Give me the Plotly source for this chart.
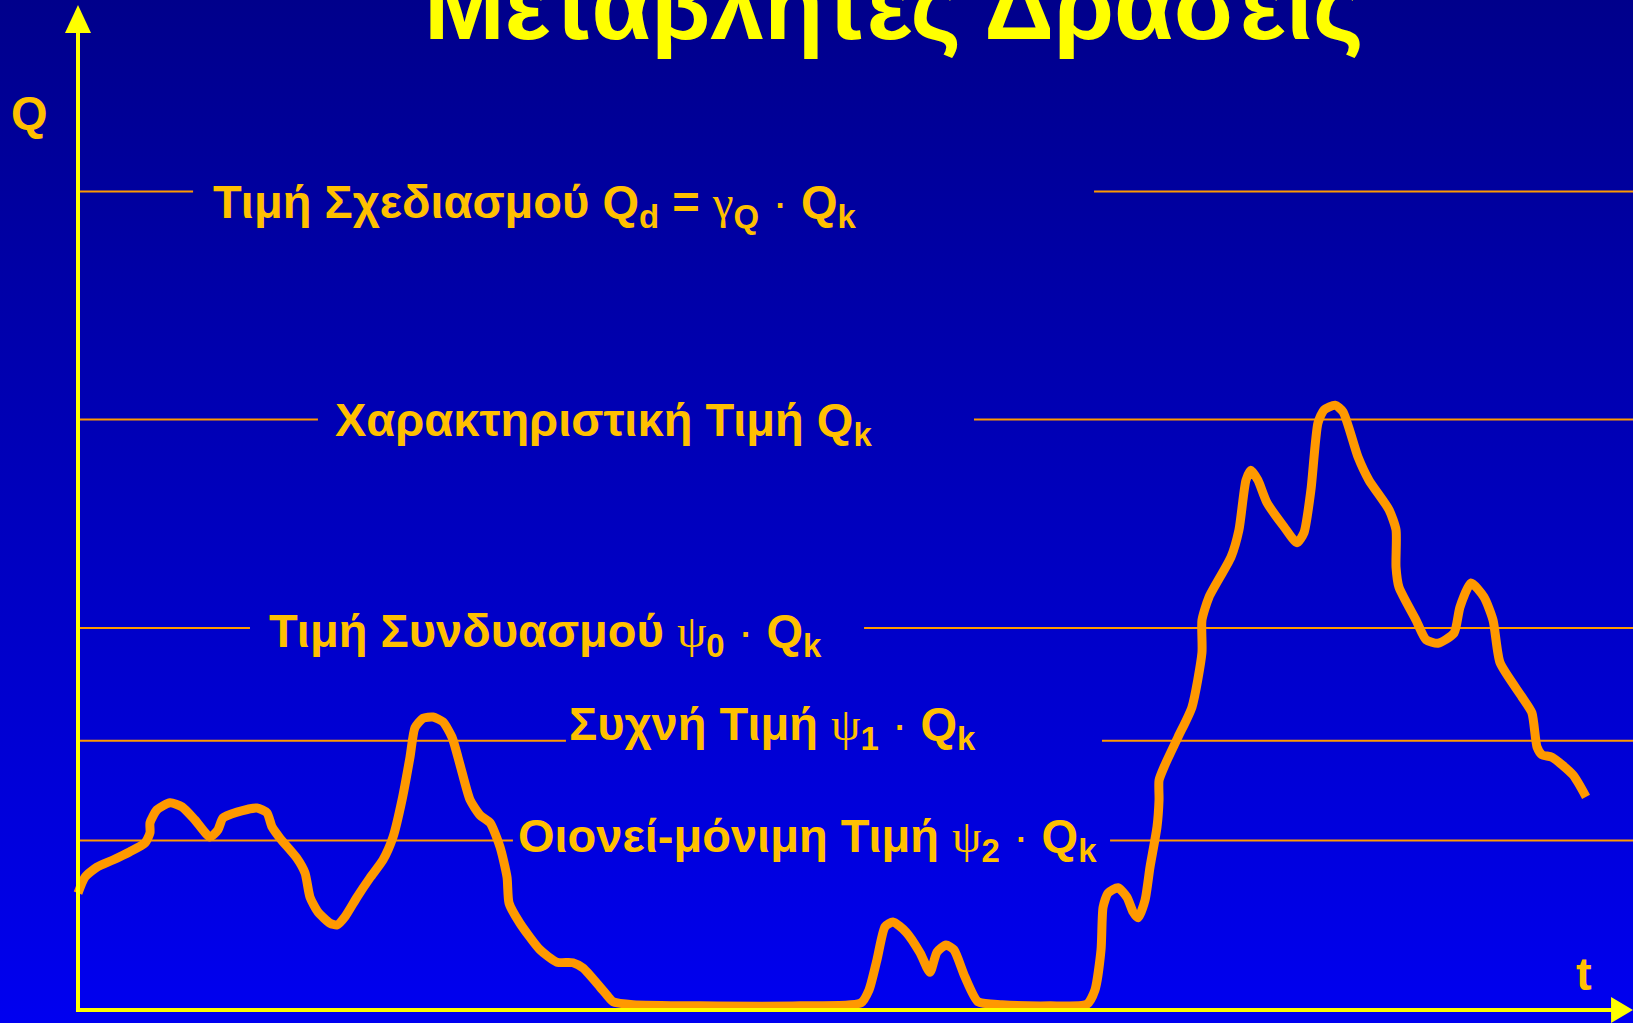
import plotly.graph_objects as go

# ---- time history of the variable action Q(t) ----
t_obs = [0, 0.45, 1.22, 2.25, 3.34, 4.31, 4.63, 4.63, 5.08, 5.92,
         6.69, 7.52, 8.49, 9.00, 9.32, 10.23, 11.51, 12.15, 12.48, 12.99,
         14.08, 14.60, 14.92, 15.43, 16.21, 16.66, 17.17, 17.94, 18.78, 19.61,
         20.26, 20.84, 21.35, 21.67, 22.19, 22.83, 23.47, 24.05, 24.57, 25.21,
         25.85, 26.50, 27.14, 27.59, 27.72, 28.42, 29.71, 30.80, 31.83, 32.48,
         33.57, 34.02, 34.41, 35.69, 40.00, 46.43, 50.35, 50.87, 51.38, 51.90,
         52.41, 53.25, 54.15, 54.79, 55.24, 55.82, 56.33, 57.04, 57.88, 59.42,
         62.51, 64.89, 65.40, 65.79, 65.92, 66.24, 66.88, 67.46, 67.85, 68.17,
         68.62, 68.94, 69.39, 69.52, 69.52, 69.90, 70.74, 71.64, 72.28, 72.28,
         72.73, 74.15, 74.66, 75.11, 75.43, 75.88, 76.46, 77.56, 78.39, 78.84,
         79.29, 79.74, 80.13, 80.84, 81.35, 82.32, 83.02, 84.31, 84.76, 84.76,
         84.95, 86.05, 86.69, 87.46, 88.49, 88.87, 89.58, 90.42, 91.00, 91.45,
         92.86, 93.50, 93.83, 94.15, 94.79, 96.14, 96.98]
q_obs = [19.8, 22.5, 24.2, 25.4, 26.8, 28.3, 30.0, 31.7, 33.9, 35.1,
         34.4, 32.2, 29.3, 30.5, 32.5, 33.5, 34.2, 33.4, 31.0, 29.1,
         25.7, 23.2, 19.1, 16.6, 14.7, 14.4, 15.8, 19.1, 22.4, 25.4,
         29.3, 35.6, 42.8, 47.8, 49.4, 49.6, 48.8, 46.2, 41.5, 35.6,
         33.0, 31.7, 27.6, 22.5, 18.1, 14.7, 10.2, 8.1, 8.0, 7.1,
         3.9, 2.5, 1.4, 0.9, 0.7, 0.7, 1.2, 3.4, 8.5, 14.1,
         14.9, 13.2, 9.7, 6.4, 9.8, 11.0, 10.2, 5.6, 1.4, 0.9,
         0.7, 1.0, 3.4, 10.2, 17.4, 19.8, 20.7, 19.1, 16.6, 15.6,
         18.6, 24.2, 31.0, 35.6, 38.9, 41.5, 46.2, 51.3, 60.5, 66.0,
         69.9, 76.7, 81.3, 89.7, 91.4, 89.7, 85.9, 81.8, 79.1, 80.8,
         88.1, 99.4, 101.6, 102.4, 101.3, 93.6, 89.7, 84.7, 81.3, 75.0,
         71.6, 66.0, 62.7, 62.1, 63.8, 68.2, 72.3, 69.9, 66.0, 58.8,
         53.0, 50.3, 44.5, 43.2, 42.8, 39.8, 36.1]

# ---- representative values of the action (Qk = 100) ----
level_q = [138.6, 100.0, 64.7, 45.6, 28.7]
# where each reference line is interrupted by its label
gap_from = [7.40, 15.43, 11.06, 31.38, 27.97]
gap_to = [65.34, 57.62, 50.55, 65.85, 66.37]

SYM = "<span style='font-family:Liberation Serif;font-weight:normal'>{}</span>"
DOT = "<span style='font-weight:normal'> · </span>"
level_text = [
    "Τιμή Σχεδιασμού Q<sub>d</sub> = " + SYM.format("γ") + "<sub>Q</sub>" + DOT + "Q<sub>k</sub>",
    "Χαρακτηριστική Τιμή Q<sub>k</sub>",
    "Τιμή Συνδυασμού " + SYM.format("ψ") + "<sub>0</sub>" + DOT + "Q<sub>k</sub>",
    "Συχνή Τιμή " + SYM.format("ψ") + "<sub>1</sub>" + DOT + "Q<sub>k</sub>",
    "Οιονεί-μόνιμη Τιμή " + SYM.format("ψ") + "<sub>2</sub>" + DOT + "Q<sub>k</sub>",
]
label_t = [8.55, 16.40, 12.15, 31.45, 28.17]
label_q = [136.3, 99.4, 63.7, 47.9, 29.0]

title_text = "Μεταβλητές Δράσεις"

# ---- styling ----
T_MIN, T_MAX = -5.016, 100.0
Q_MIN, Q_MAX = -2.20, 171.01
ORANGE = "#FF9900"
GOLD = "#FFC000"
YELLOW = "#FFFF00"
FONT = "Liberation Sans, Arial, sans-serif"

fig = go.Figure()

# gradient backdrop
fig.add_trace(go.Scatter(
    x=[T_MIN, T_MAX, T_MAX, T_MIN, T_MIN],
    y=[Q_MIN, Q_MIN, Q_MAX, Q_MAX, Q_MIN],
    mode="lines", line=dict(width=0), fill="toself",
    fillgradient=dict(type="vertical",
                      colorscale=[[0, "#0000F0"], [1, "#00008B"]]),
    hoverinfo="skip", showlegend=False))

# reference levels, broken around their labels
for q, a, b in zip(level_q, gap_from, gap_to):
    fig.add_trace(go.Scatter(
        x=[0, a, None, b, T_MAX], y=[q, q, None, q, q],
        mode="lines", line=dict(color=ORANGE, width=2),
        hoverinfo="skip", showlegend=False))

# the load history
fig.add_trace(go.Scatter(
    x=t_obs, y=q_obs, mode="lines",
    line=dict(color=ORANGE, width=9, shape="spline", smoothing=0.6),
    hoverinfo="skip", showlegend=False))

annotations = []
for txt, lt, lq in zip(level_text, label_t, label_q):
    annotations.append(dict(
        x=lt, y=lq, xref="x", yref="y", text=txt, showarrow=False,
        xanchor="left", yanchor="middle",
        font=dict(family=FONT, size=47, color=GOLD, weight="bold")))

annotations.append(dict(
    x=-3.09, y=151.9, xref="x", yref="y", text="Q", showarrow=False,
    xanchor="center", yanchor="middle",
    font=dict(family=FONT, size=47, color=GOLD, weight="bold")))
annotations.append(dict(
    x=96.85, y=6.1, xref="x", yref="y", text="t", showarrow=False,
    xanchor="center", yanchor="middle",
    font=dict(family=FONT, size=47, color=GOLD, weight="bold")))

annotations.append(dict(
    x=0.5469, y=0.9946, xref="paper", yref="paper", text=title_text,
    showarrow=False, xanchor="center", yanchor="middle",
    font=dict(family=FONT, size=97, color=YELLOW, weight="bold")))

# axes with arrowheads
ARW_T = 0.836   # half-width of the vertical arrowhead (t units)
ARW_QH = 4.75   # length of the vertical arrowhead (Q units)
ARX_T = 1.41    # length of the horizontal arrowhead (t units)
ARX_Q = 2.2     # half-height of the horizontal arrowhead (Q units)
y_tip = 170.16
shapes = [
    dict(type="line", xref="x", yref="y", x0=0, x1=0, y0=-0.35, y1=y_tip - ARW_QH + 0.3,
         line=dict(color=YELLOW, width=4), layer="above"),
    dict(type="line", xref="x", yref="y", x0=-0.13, x1=T_MAX - ARX_T + 0.1, y0=0, y1=0,
         line=dict(color=YELLOW, width=4), layer="above"),
    dict(type="path", xref="x", yref="y",
         path=f"M {-ARW_T},{y_tip - ARW_QH} L 0,{y_tip} L {ARW_T},{y_tip - ARW_QH} Z",
         fillcolor=YELLOW, line=dict(width=0), layer="above"),
    dict(type="path", xref="x", yref="y",
         path=f"M {T_MAX - ARX_T},{-ARX_Q} L {T_MAX},0 L {T_MAX - ARX_T},{ARX_Q} Z",
         fillcolor=YELLOW, line=dict(width=0), layer="above"),
]

fig.update_layout(
    width=1633, height=1023,
    margin=dict(l=0, r=0, t=0, b=0),
    paper_bgcolor="#0000BB", plot_bgcolor="rgba(0,0,0,0)",
    xaxis=dict(range=[T_MIN, T_MAX], visible=False, fixedrange=True),
    yaxis=dict(range=[Q_MIN, Q_MAX], visible=False, fixedrange=True),
    annotations=annotations, shapes=shapes,
    showlegend=False,
)

fig.write_html("out.html")
